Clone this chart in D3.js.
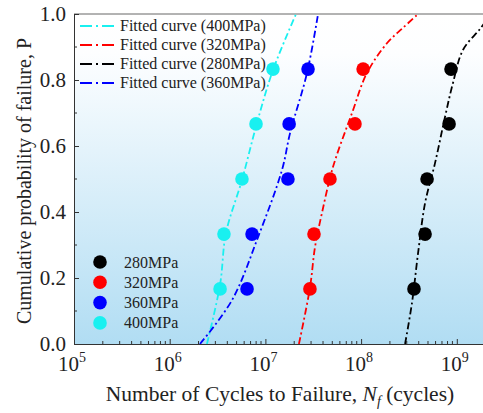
<!DOCTYPE html>
<html>
<head>
<meta charset="utf-8">
<script src="https://d3js.org/d3.v7.min.js"></script>
<style>
  body { margin: 0; background: #fff; }
  svg text { font-family: "Liberation Serif", "Times New Roman", serif; fill: #222; }
</style>
</head>
<body>
<svg id="chart" width="483" height="413"></svg>
<script>
// ── Daten: Versuchspunkte (Zyklen bis Bruch) ─────────
const probs = [0.167, 0.333, 0.5, 0.667, 0.833];
const cycles280 = [3.57e8, 4.66e8, 4.89e8, 8.3e8, 8.7e8];
const cycles320 = [2.92e7, 3.22e7, 4.73e7, 8.63e7, 1.05e8];
const cycles360 = [6.43e6, 7.25e6, 1.72e7, 1.77e7, 2.79e7];
const cycles400 = [3.36e6, 3.69e6, 5.69e6, 7.98e6, 1.2e7];

const fit400 = [[2.45e6, 0], [3.36e6, 0.18], [3.87e6, 0.336], [5.69e6, 0.497], [8.17e6, 0.67], [1.2e7, 0.83], [2.09e7, 1.0]];
const fit320 = [[2.24e7, 0], [2.92e7, 0.17], [3.3e7, 0.294], [3.9e7, 0.397], [5.08e7, 0.536], [8.04e7, 0.70], [1.15e8, 0.821], [1.87e8, 0.912], [2.74e8, 0.958], [3.94e8, 1.0]];
const fit280 = [[2.88e8, 0], [3.4e8, 0.124], [3.94e8, 0.276], [4.66e8, 0.427], [5.92e8, 0.548], [7.53e8, 0.688], [9.12e8, 0.791], [1.16e9, 0.891], [1.75e9, 0.955], [2.3e9, 1.0]];
const fit360 = [[2.07e6, 0], [4.48e6, 0.133], [8.38e6, 0.324], [1.49e7, 0.527], [1.81e7, 0.639], [2.72e7, 0.821], [3.55e7, 1.0]];

const xTickExps = [5, 6, 7, 8, 9];
const yTicks = [0, 0.2, 0.4, 0.6, 0.8, 1.0];

const fitSeries = [
  { label: 'Fitted curve (400MPa)', color: '#19f0f0', data: fit400 },
  { label: 'Fitted curve (320MPa)', color: '#ff0000', data: fit320 },
  { label: 'Fitted curve (280MPa)', color: '#000000', data: fit280 },
  { label: 'Fitted curve (360MPa)', color: '#0000ff', data: fit360 }
];
const pointSeries = [
  { label: '280MPa', color: '#000000', data: cycles280 },
  { label: '320MPa', color: '#ff0000', data: cycles320 },
  { label: '360MPa', color: '#0000ff', data: cycles360 },
  { label: '400MPa', color: '#19f0f0', data: cycles400 }
];

// ── Layout ──────────────────────────────────────────
const pLeft = 74, pTop = 14, pBottom = 344;
const decade = 95.7;
const xMax = 3e9;
const pRight = pLeft + decade * Math.log10(xMax / 1e5);

const svg = d3.select('#chart');
const x = d3.scaleLog().domain([1e5, xMax]).range([pLeft, pRight]);
const y = d3.scaleLinear().domain([0, 1]).range([pBottom, pTop]);

// Hintergrund-Verlauf
const defs = svg.append('defs');
const grad = defs.append('linearGradient')
  .attr('id', 'bg').attr('x1', 0).attr('y1', 0).attr('x2', 0).attr('y2', 1);
grad.append('stop').attr('offset', '0%').attr('stop-color', '#ffffff');
grad.append('stop').attr('offset', '12%').attr('stop-color', '#fdfeff');
grad.append('stop').attr('offset', '100%').attr('stop-color', '#b1ddf3');

defs.append('clipPath').attr('id', 'clip')
  .append('rect').attr('x', pLeft).attr('y', pTop).attr('width', pRight - pLeft).attr('height', pBottom - pTop);

svg.append('rect')
  .attr('x', pLeft).attr('y', pTop)
  .attr('width', pRight - pLeft).attr('height', pBottom - pTop)
  .attr('fill', 'url(#bg)');

// Rahmen oben
svg.append('line')
  .attr('x1', pLeft).attr('x2', pRight).attr('y1', pTop).attr('y2', pTop)
  .attr('stroke', '#666').attr('stroke-width', 1);

// ── X-Achse ─────────────────────────────────────────
const minorX = [];
for (let e = 5; e < 10; e++) for (let m = 2; m <= 9; m++) minorX.push(m * Math.pow(10, e));

const xAxis = svg.append('g')
  .attr('transform', `translate(0,${pBottom})`)
  .call(d3.axisBottom(x).tickValues(xTickExps.map(e => Math.pow(10, e)))
    .tickSizeInner(-5).tickSizeOuter(0).tickFormat(''));
xAxis.select('.domain').attr('stroke', '#333');
xAxis.selectAll('.tick line').attr('stroke', '#333');

svg.append('g').selectAll('line')
  .data(minorX.filter(v => v < xMax)).join('line')
    .attr('x1', d => x(d)).attr('x2', d => x(d))
    .attr('y1', pBottom).attr('y2', pBottom - 3)
    .attr('stroke', '#333').attr('stroke-width', 1);

const xLabels = svg.append('g').selectAll('text')
  .data(xTickExps).join('text')
    .attr('x', d => x(Math.pow(10, d)) - 2)
    .attr('y', pBottom + 27)
    .attr('text-anchor', 'middle')
    .attr('font-size', 21);
xLabels.append('tspan').text('10');
xLabels.append('tspan').attr('dy', -9).attr('font-size', 14).text(d => d);

// ── Y-Achse ─────────────────────────────────────────
const yAxis = svg.append('g')
  .attr('transform', `translate(${pLeft},0)`)
  .call(d3.axisLeft(y).tickValues(yTicks)
    .tickSizeInner(-5).tickSizeOuter(0).tickPadding(8).tickFormat(d3.format('.1f')));
yAxis.select('.domain').attr('stroke', '#333');
yAxis.selectAll('.tick line').attr('stroke', '#333');
yAxis.selectAll('.tick text')
  .attr('font-size', 21).attr('fill', '#222')
  .attr('font-family', '"Liberation Serif", "Times New Roman", serif');

svg.append('g').selectAll('line')
  .data([0.1, 0.3, 0.5, 0.7, 0.9]).join('line')
    .attr('x1', pLeft).attr('x2', pLeft + 3)
    .attr('y1', d => y(d)).attr('y2', d => y(d))
    .attr('stroke', '#333');

// Achsentitel
svg.append('text')
  .attr('transform', `translate(31,${(pTop + pBottom) / 2 + 2}) rotate(-90)`)
  .attr('text-anchor', 'middle')
  .attr('font-size', 20)
  .text('Cumulative probability of failure, P');

const xt = svg.append('text')
  .attr('x', 280).attr('y', 401)
  .attr('text-anchor', 'middle')
  .attr('font-size', 21.5);
xt.append('tspan').text('Number of Cycles to Failure, ');
xt.append('tspan').attr('font-style', 'italic').text('N');
xt.append('tspan').attr('font-style', 'italic').attr('font-size', 14).attr('dy', 5).text('f');
xt.append('tspan').attr('dy', -5).text(' (cycles)');

// ── Fitkurven ───────────────────────────────────────
const line = d3.line()
  .x(d => x(d[0])).y(d => y(d[1]))
  .curve(d3.curveCatmullRom);

const plot = svg.append('g').attr('clip-path', 'url(#clip)');

plot.selectAll('path.fit')
  .data(fitSeries).join('path')
    .attr('class', 'fit')
    .attr('d', d => line(d.data))
    .attr('fill', 'none')
    .attr('stroke', d => d.color)
    .attr('stroke-width', 1.8)
    .attr('stroke-dasharray', '7,3,2,3');

// ── Messpunkte ──────────────────────────────────────
pointSeries.forEach(s => {
  plot.append('g').selectAll('circle')
    .data(s.data).join('circle')
      .attr('cx', d => x(d))
      .attr('cy', (d, i) => y(probs[i]))
      .attr('r', 6.8)
      .attr('fill', s.color);
});

// ── Legende oben (Linien) ───────────────────────────
const legTop = svg.append('g');
fitSeries.forEach((s, i) => {
  const yy = 26 + i * 19;
  legTop.append('line')
    .attr('x1', 80).attr('x2', 115).attr('y1', yy).attr('y2', yy)
    .attr('stroke', s.color).attr('stroke-width', 1.8)
    .attr('stroke-dasharray', '12,4,2,4');
  legTop.append('text')
    .attr('x', 120).attr('y', yy + 5)
    .attr('font-size', 16)
    .text(s.label);
});

// ── Legende unten (Punkte) ──────────────────────────
const legBot = svg.append('g');
pointSeries.forEach((s, i) => {
  const yy = 262 + i * 20.3;
  legBot.append('circle')
    .attr('cx', 100).attr('cy', yy).attr('r', 6.8).attr('fill', s.color);
  legBot.append('text')
    .attr('x', 124).attr('y', yy + 5.5)
    .attr('font-size', 16)
    .text(s.label);
});
</script>
</body>
</html>
